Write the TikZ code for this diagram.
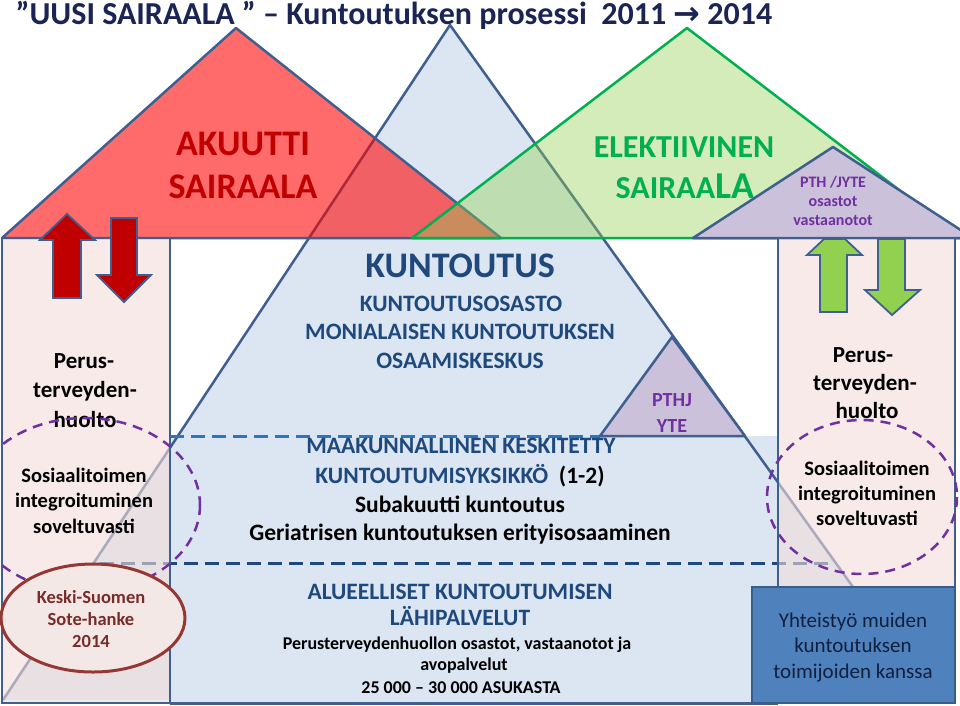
\documentclass[tikz,border=0pt]{standalone}
\usepackage{fontspec}
\setmainfont{Carlito}
\newfontfamily\dvfont{DejaVu Sans}
\definecolor{edge}{HTML}{3F5F8F}
\definecolor{lblue}{HTML}{DCE6F2}
\definecolor{lpurple}{HTML}{CCC1DA}
\definecolor{colpink}{HTML}{F2DCDB}
\definecolor{gfill}{HTML}{92D050}
\definecolor{gedge}{HTML}{00B050}
\definecolor{navytxt}{HTML}{1F497D}
\definecolor{titletxt}{HTML}{1A2455}
\definecolor{redtxt}{HTML}{C00000}
\definecolor{purpletxt}{HTML}{7030A0}
\definecolor{dashblue}{HTML}{2E75C0}
\definecolor{dashnavy}{HTML}{1F497D}
\definecolor{ovalfill}{HTML}{F4E8E6}
\definecolor{ovaledge}{HTML}{953735}
\definecolor{ovaltxt}{HTML}{772C2A}
\definecolor{boxfill}{HTML}{4F81BD}
\definecolor{boxedge}{HTML}{385D8A}
\definecolor{boxtxt}{HTML}{10203F}
\newcommand\fsz[1]{\fontsize{#1}{#1}\selectfont}
\tikzset{
  tri/.style={draw=edge, line width=2.5pt, line join=round},
  colbox/.style={draw=edge, line width=2pt},
  txt/.style={anchor=base, inner sep=0pt, font=\bfseries},
  arrowshape/.style={draw=edge, line width=1.8pt, line join=miter},
  purpledash/.style={draw=purpletxt, line width=2.5pt, dash pattern=on 10pt off 7pt},
}
\begin{document}
\begin{tikzpicture}[x=1pt,y=-1pt]
\useasboundingbox (0,0) rectangle (960,705);
\fill[white] (0,0) rectangle (960,705);

% lower blue region and big triangle
\fill[lblue] (170,436) rectangle (778,703);
\fill[lblue] (3,700) -- (450,25) -- (934,700) -- cycle;
\draw[tri] (3,700) -- (450,25) -- (934,700);
\draw[edge, line width=3pt] (170,703) -- (778,703);

% dashed separators
\draw[dashblue, line width=3pt, dash pattern=on 14pt off 7pt] (170,436) -- (600,436);
\draw[dashnavy, line width=3pt, dash pattern=on 14pt off 7pt] (100,563) -- (830,563);

% small purple triangle
\draw[tri, fill=lpurple] (600,436) -- (672,337) -- (745,436) -- cycle;

% red triangle
\fill[red, opacity=0.58] (2,238) -- (236,28) -- (501,238) -- cycle;
\draw[tri] (2,238) -- (236,28) -- (501,238) -- cycle;

% green triangle
\fill[gfill, opacity=0.4] (412,238) -- (687,28) -- (962,238) -- cycle;
\draw[draw=gedge, line width=2.5pt, line join=round] (412,238) -- (687,28) -- (962,238) -- cycle;

% purple triangle
\draw[tri, fill=lpurple] (693,238) -- (833,147) -- (973,238) -- cycle;

% columns
\fill[colpink, opacity=0.6] (2,238) rectangle (170,703);
\fill[colpink, opacity=0.6] (778,238) rectangle (955,703);
\draw[colbox] (2,238) rectangle (170,703);
\draw[colbox] (778,238) rectangle (955,703);

% arrows
\draw[arrowshape, fill=redtxt] (67,214) -- (95,240) -- (81,240) -- (81,298) -- (53,298) -- (53,240) -- (40,240) -- cycle;
\draw[arrowshape, fill=redtxt] (111,218) -- (137,218) -- (137,275) -- (151,275) -- (124,302) -- (97,275) -- (111,275) -- cycle;
\draw[arrowshape, fill=gfill] (807,255) -- (824,239) -- (845,239) -- (862,255) -- (847,255) -- (847,312) -- (820,312) -- (820,255) -- cycle;
\draw[arrowshape, fill=gfill] (878,239) -- (905,239) -- (905,290) -- (920,290) -- (892,315) -- (865,290) -- (878,290) -- cycle;

% title
\node[txt, text=titletxt, font=\bfseries\fsz{32}] (title) at (394,24)
  {”UUSI SAIRAALA ” – Kuntoutuksen prosessi\ \ 2011 {\dvfont\bfseries →} 2014};

% triangle labels
\node[txt, text=redtxt, font=\bfseries\fsz{36}] (ak1) at (243,155) {AKUUTTI};
\node[txt, text=redtxt, font=\bfseries\fsz{36}] (ak2) at (243,198) {SAIRAALA};
\node[txt, text=gedge, font=\bfseries\fsz{32}] (el1) at (684,157) {ELEKTIIVINEN};
\node[txt, text=gedge, font=\bfseries\fsz{32}] (el2) at (685,198) {SAIRAA{\fsz{38}LA}};
\node[txt, text=purpletxt, font=\bfseries\fsz{16}] (pth1) at (833,187) {PTH /JYTE};
\node[txt, text=purpletxt, font=\bfseries\fsz{16}] (pth2) at (833,206) {osastot};
\node[txt, text=purpletxt, font=\bfseries\fsz{16}] (pth3) at (833,225) {vastaanotot};
\node[txt, text=purpletxt, font=\bfseries\fsz{20}] (pj1) at (672,406) {PTHJ};
\node[txt, text=purpletxt, font=\bfseries\fsz{20}] (pj2) at (672,432) {YTE};

% KUNTOUTUS block
\node[txt, text=navytxt, font=\bfseries\fsz{36}] (k0) at (460,277) {KUNTOUTUS};
\node[txt, text=navytxt, font=\bfseries\fsz{23.5}] (k1) at (461,311) {KUNTOUTUSOSASTO};
\node[txt, text=navytxt, font=\bfseries\fsz{23.5}] (k2) at (460,339) {MONIALAISEN KUNTOUTUKSEN};
\node[txt, text=navytxt, font=\bfseries\fsz{23.5}] (k3) at (460,368) {OSAAMISKESKUS};
\node[txt, text=navytxt, font=\bfseries\fsz{23.5}] (m1) at (461,453) {MAAKUNNALLINEN KESKITETTY};
\node[txt, text=navytxt, font=\bfseries\fsz{23.5}] (m2) at (460,483) {KUNTOUTUMISYKSIKKÖ\ \ \textcolor{black}{(1-2)}};
\node[txt, font=\bfseries\fsz{23.5}] (m3) at (460,512) {Subakuutti kuntoutus};
\node[txt, font=\bfseries\fsz{23.5}] (m4) at (460,540) {Geriatrisen kuntoutuksen erityisosaaminen};

% lower block
\node[txt, text=navytxt, font=\bfseries\fsz{23.5}] (a1) at (460,599) {ALUEELLISET KUNTOUTUMISEN};
\node[txt, text=navytxt, font=\bfseries\fsz{23.5}] (a2) at (460,625) {LÄHIPALVELUT};
\node[txt, font=\bfseries\fsz{18}] (a3) at (457,649) {Perusterveydenhuollon osastot, vastaanotot ja};
\node[txt, font=\bfseries\fsz{18}] (a4) at (464,670) {avopalvelut};
\node[txt, font=\bfseries\fsz{18}] (a5) at (461,693) {25 000 – 30 000 ASUKASTA};

% left column text
\node[txt, font=\bfseries\fsz{23}] (lp1) at (84,368) {Perus-};
\node[txt, font=\bfseries\fsz{23}] (lp2) at (85,397) {terveyden-};
\node[txt, font=\bfseries\fsz{23}] (lp3) at (85,427) {huolto};
\node[txt, font=\bfseries\fsz{20.5}] (ls1) at (84,482) {Sosiaalitoimen};
\node[txt, font=\bfseries\fsz{20.5}] (ls2) at (84,507) {integroituminen};
\node[txt, font=\bfseries\fsz{20.5}] (ls3) at (84,533) {soveltuvasti};

% right column text
\node[txt, font=\bfseries\fsz{23}] (rp1) at (863,362) {Perus-};
\node[txt, font=\bfseries\fsz{23}] (rp2) at (865,390) {terveyden-};
\node[txt, font=\bfseries\fsz{23}] (rp3) at (867,418) {huolto};
\node[txt, font=\bfseries\fsz{20.5}] (rs1) at (867,475) {Sosiaalitoimen};
\node[txt, font=\bfseries\fsz{20.5}] (rs2) at (867,500) {integroituminen};
\node[txt, font=\bfseries\fsz{20.5}] (rs3) at (867,525) {soveltuvasti};

% dashed purple ellipses
\draw[purpledash] (85,505) ellipse [x radius=115, y radius=87];
\draw[purpledash] (862,497) ellipse [x radius=95, y radius=77];

% Keski-Suomen oval
\draw[fill=ovalfill, draw=ovaledge, line width=3pt] (93,618) ellipse [x radius=92, y radius=54];
\node[txt, text=ovaltxt, font=\bfseries\fsz{18.5}] (ks1) at (91,603) {Keski-Suomen};
\node[txt, text=ovaltxt, font=\bfseries\fsz{18.5}] (ks2) at (91,625) {Sote-hanke};
\node[txt, text=ovaltxt, font=\bfseries\fsz{18.5}] (ks3) at (91,647) {2014};

% Yhteistyo box
\draw[fill=boxfill, draw=boxedge, line width=2.5pt] (752,587) rectangle (955,703);
\node[txt, text=boxtxt, font=\fsz{21}] (y1) at (853,627) {Yhteistyö muiden};
\node[txt, text=boxtxt, font=\fsz{21}] (y2) at (853,652) {kuntoutuksen};
\node[txt, text=boxtxt, font=\fsz{21}] (y3) at (853,678) {toimijoiden kanssa};
\end{tikzpicture}
\end{document}
